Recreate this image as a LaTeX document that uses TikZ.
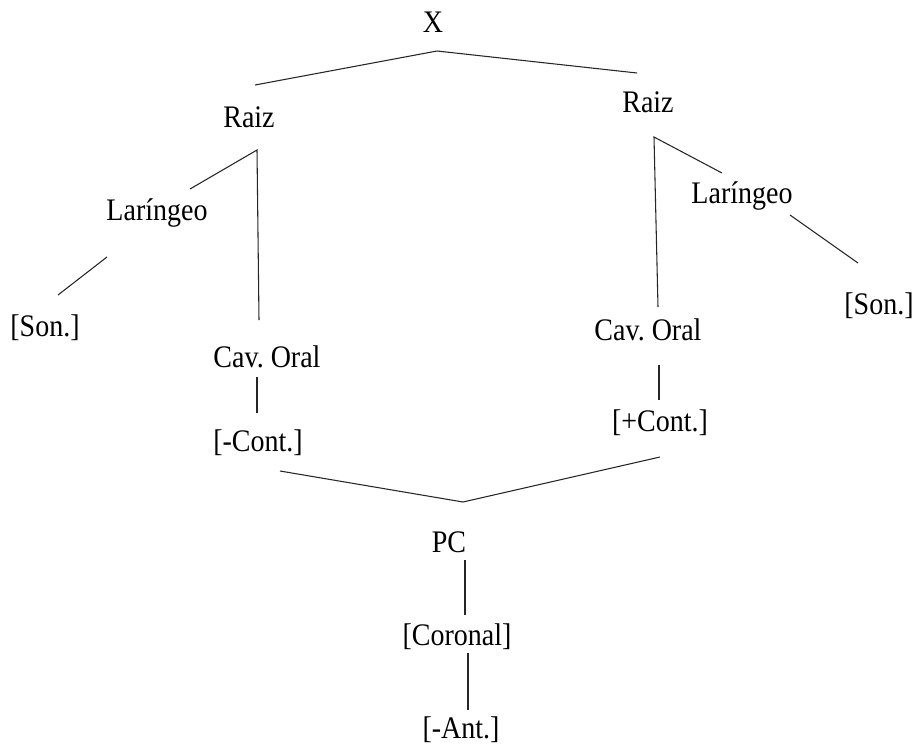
\documentclass[tikz,border=0pt]{standalone}
\usepackage{fontspec}
\setmainfont{Liberation Serif}
\frenchspacing
% labels are set slightly taller than wide
\newcommand\tall[1]{\scalebox{1}[1.12]{#1}}
\begin{document}
\begin{tikzpicture}[x=0.75pt,y=-0.75pt,
  lbl/.style={inner sep=0pt,font=\fontsize{21}{24}\selectfont},
  br/.style={draw=black!85,line width=0.8pt,line join=miter}]
\useasboundingbox (0,0) rectangle (917,747);

% labels
\node[lbl] (x)    at (433,22)  {\tall{X}};
\node[lbl] (raizL) at (249,117) {\tall{Raiz}};
\node[lbl] (raizR) at (648,102) {\tall{Raiz}};
\node[lbl] (larL) at (157,213) {\tall{Laríngeo}};
\node[lbl] (larR) at (742,196) {\tall{Laríngeo}};
\node[lbl] (sonL) at (45,328)  {\tall{[Son.]}};
\node[lbl] (sonR) at (879,306) {\tall{[Son.]}};
\node[lbl] (cavL) at (267,357) {\tall{Cav. Oral}};
\node[lbl] (cavR) at (648,330) {\tall{Cav. Oral}};
\node[lbl] (contL) at (258,443) {\tall{[-Cont.]}};
\node[lbl] (contR) at (660,423) {\tall{[+Cont.]}};
\node[lbl] (pc)   at (449,542) {\tall{PC}};
\node[lbl] (cor)  at (457,637) {\tall{[Coronal]}};
\node[lbl] (ant)  at (461,730) {\tall{[-Ant.]}};

% branch points
\coordinate (xtop) at (437,51);
\coordinate (xl) at (255,85);
\coordinate (xr) at (637,73);
\coordinate (rlc) at (257,150);
\coordinate (rll) at (190,189);
\coordinate (rlb) at (259,320);
\coordinate (rrc) at (654,137);
\coordinate (rrl) at (722,173);
\coordinate (rrb) at (658,307);
\coordinate (lls) at (107,257);
\coordinate (lle) at (58,295);
\coordinate (lrs) at (790,215);
\coordinate (lre) at (858,263);
\coordinate (cls) at (257,377);
\coordinate (cle) at (257,413);
\coordinate (crs) at (659,365);
\coordinate (cre) at (659,400);
\coordinate (pcl) at (280,471);
\coordinate (pcv) at (463,502);
\coordinate (pcr) at (660,457);
\coordinate (cs1) at (465,560);
\coordinate (ce1) at (465,615);
\coordinate (cs2) at (468,653);
\coordinate (ce2) at (468,710);

% branches
\draw[br] (xl) -- (xtop) -- (xr);
\draw[br] (rll) -- (rlc) -- (rlb);
\draw[br] (rrl) -- (rrc) -- (rrb);
\draw[br] (lls) -- (lle);
\draw[br] (lrs) -- (lre);
\draw[br] (cls) -- (cle);
\draw[br] (crs) -- (cre);
\draw[br] (pcl) -- (pcv) -- (pcr);
\draw[br] (cs1) -- (ce1);
\draw[br] (cs2) -- (ce2);
\end{tikzpicture}
\end{document}
